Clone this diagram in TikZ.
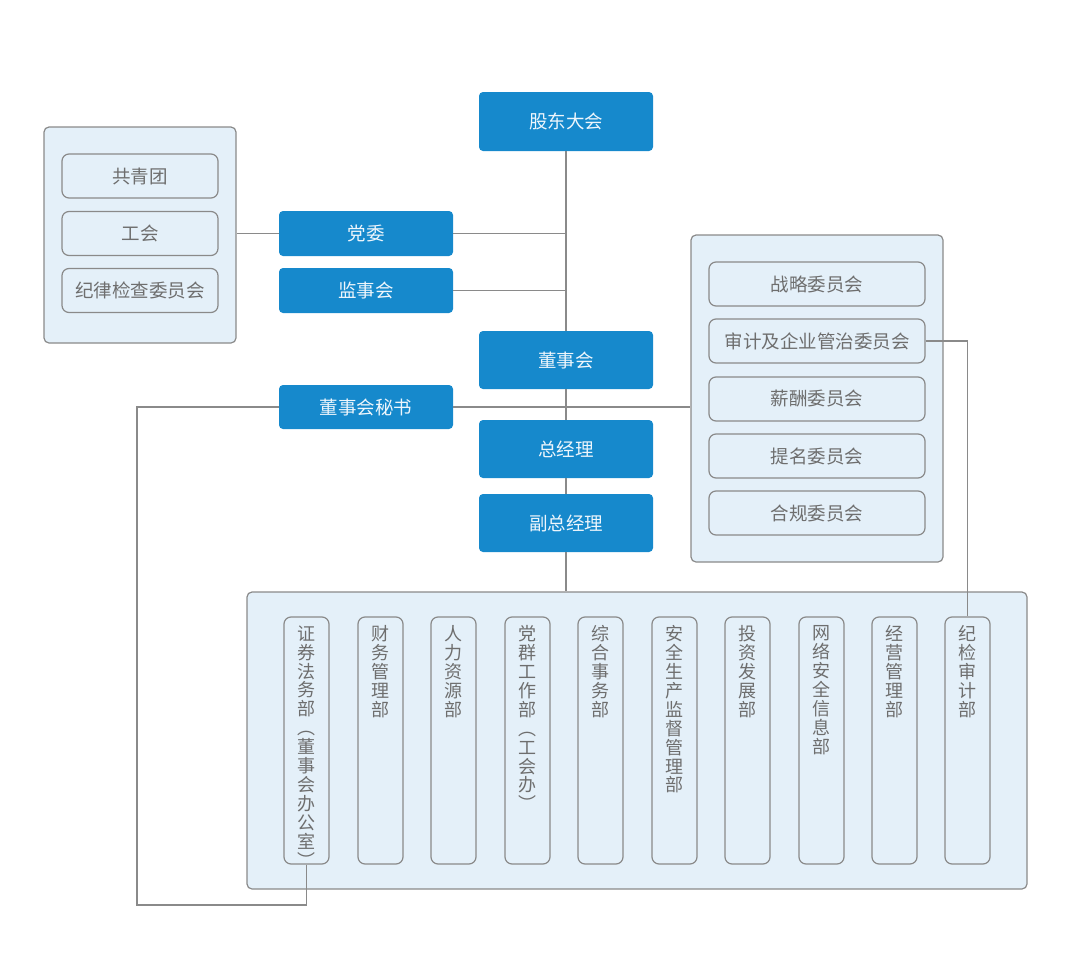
\documentclass[tikz,border=0pt]{standalone}
\usepackage{fontspec}
\setmainfont{Noto Sans CJK SC}
\definecolor{bluebox}{HTML}{1689CC}
\definecolor{groupfill}{HTML}{E4F0F9}
\definecolor{edgegray}{HTML}{8A8A8A}
\definecolor{txtgray}{HTML}{6E6E6E}
\definecolor{txtlight}{HTML}{EEF6FC}
\tikzset{
  bluenode/.style={draw=none, fill=bluebox, rounded corners=4pt, minimum width=174pt, text=txtlight, font=\fontsize{18.5}{21}\selectfont, inner sep=0pt},
  groupbox/.style={draw=edgegray, line width=1.2pt, fill=groupfill, rounded corners=5pt, inner sep=0pt},
  itembox/.style={draw=edgegray, line width=1.2pt, fill=groupfill, rounded corners=7pt, minimum height=44pt, inner sep=0pt, text=txtgray, font=\fontsize{18.5}{21}\selectfont},
  deptbox/.style={draw=edgegray, line width=1.2pt, fill=groupfill, rounded corners=7pt, minimum width=45pt, minimum height=247pt, inner sep=0pt},
  vlabel/.style={anchor=north, align=center, text=txtgray, font=\fontsize{18}{18.9}\selectfont, inner sep=0pt},
  conn/.style={draw=edgegray, line width=1.1pt},
}
\begin{document}
\begin{tikzpicture}[x=1pt,y=-1pt]
\useasboundingbox (0,0) rectangle (1080,956);
% groups
\node[groupbox, minimum width=192pt, minimum height=216pt] (lg) at (140,235) {};
\node[groupbox, minimum width=252pt, minimum height=327pt] (rg) at (817,398.5) {};
\node[groupbox, minimum width=780pt, minimum height=297pt] (bg) at (637,740.5) {};
% left items
\node[itembox, minimum width=156pt] (gqt) at (140,176) {共青团};
\node[itembox, minimum width=156pt] (gh) at (140,233.5) {工会};
\node[itembox, minimum width=156pt] (jl) at (140,290.5) {纪律检查委员会};
% right items
\node[itembox, minimum width=216pt] (zl) at (817,284) {战略委员会};
\node[itembox, minimum width=216pt] (sj) at (817,341) {审计及企业管治委员会};
\node[itembox, minimum width=216pt] (xc) at (817,399) {薪酬委员会};
\node[itembox, minimum width=216pt] (tm) at (817,456) {提名委员会};
\node[itembox, minimum width=216pt] (hg) at (817,513) {合规委员会};
% blue nodes
\node[bluenode, minimum height=59pt] (gd) at (566,121.5) {股东大会};
\node[bluenode, minimum height=45pt] (dw) at (366,233.5) {党委};
\node[bluenode, minimum height=45pt] (js) at (366,290.5) {监事会};
\node[bluenode, minimum height=58pt] (dsh) at (566,360) {董事会};
\node[bluenode, minimum height=44pt] (ms) at (366,407) {董事会秘书};
\node[bluenode, minimum height=58pt] (zjl) at (566,449) {总经理};
\node[bluenode, minimum height=58pt] (fz) at (566,523) {副总经理};
% departments
\foreach \n/\x/\t in {
  d1/306.5/{证\\券\\法\\务\\部\\︵\\董\\事\\会\\办\\公\\室\\︶},
  d2/380.5/{财\\务\\管\\理\\部},
  d3/453.5/{人\\力\\资\\源\\部},
  d4/527.5/{党\\群\\工\\作\\部\\︵\\工\\会\\办\\︶},
  d5/600.5/{综\\合\\事\\务\\部},
  d6/674.5/{安\\全\\生\\产\\监\\督\\管\\理\\部},
  d7/747.5/{投\\资\\发\\展\\部},
  d8/821.5/{网\\络\\安\\全\\信\\息\\部},
  d9/894.5/{经\\营\\管\\理\\部},
  d10/967.5/{纪\\检\\审\\计\\部}}{
  \node[deptbox] (\n) at (\x,740.5) {};
  \node[vlabel] (\n t) at ([yshift=-9pt]\n.north) {\t};
}
% connectors
\draw[conn] (gd.south) -- (dsh.north);
\draw[conn] (dsh.south) -- (zjl.north);
\draw[conn] (zjl.south) -- (fz.north);
\draw[conn] (fz.south) -- (bg.north -| fz.south);
\draw[conn] (dw.east) -- (dw.east -| gd.south);
\draw[conn] (js.east) -- (js.east -| gd.south);
\draw[conn] (dw.west) -- (dw.west -| lg.east);
\draw[conn] (ms.east) -- (ms.east -| rg.west);
\draw[conn] (sj.east) -| (d10.north);
\coordinate (c1) at (137,905);
\draw[conn] (d1.south) |- (c1) |- (ms.west);
\end{tikzpicture}
\end{document}
